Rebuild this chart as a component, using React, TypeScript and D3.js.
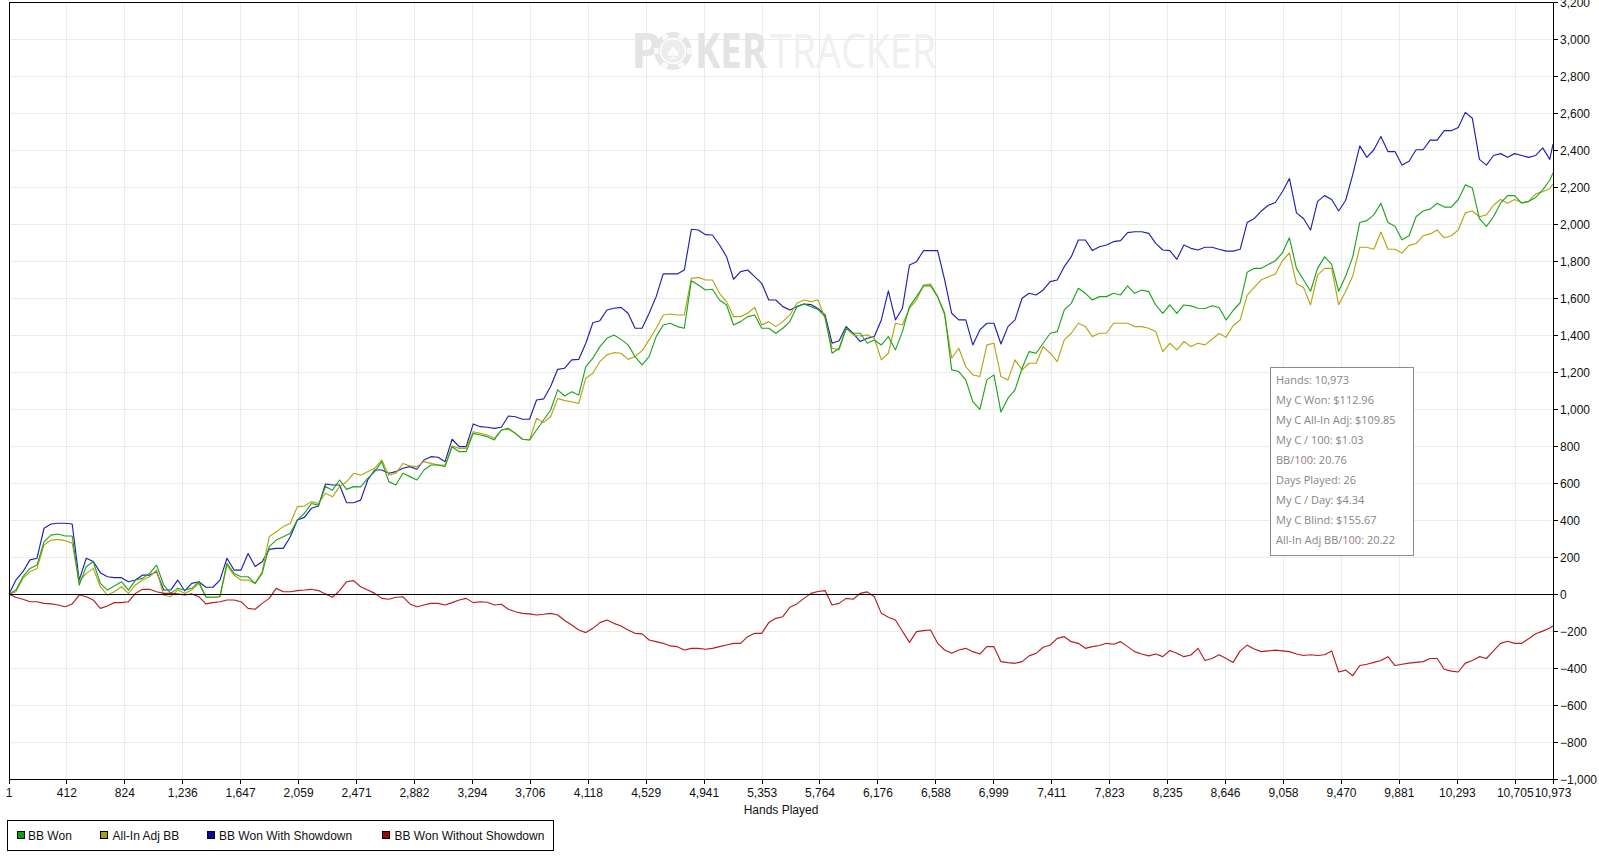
import * as d3 from "d3";
import React from "react";

// Hands sampled along the x axis (every 50 hands)
const hands = [
  1, 50, 100, 150, 200, 250, 300, 350, 400, 450,
  500, 550, 600, 650, 700, 750, 800, 850, 900, 950,
  1000, 1050, 1100, 1150, 1200, 1250, 1300, 1350, 1400, 1450,
  1500, 1550, 1600, 1650, 1700, 1750, 1800, 1850, 1900, 1950,
  2000, 2050, 2100, 2150, 2200, 2250, 2300, 2350, 2400, 2450,
  2500, 2550, 2600, 2650, 2700, 2750, 2800, 2850, 2900, 2950,
  3000, 3050, 3100, 3150, 3200, 3250, 3300, 3350, 3400, 3450,
  3500, 3550, 3600, 3650, 3700, 3750, 3800, 3850, 3900, 3950,
  4000, 4050, 4100, 4150, 4200, 4250, 4300, 4350, 4400, 4450,
  4500, 4550, 4600, 4650, 4700, 4750, 4800, 4850, 4900, 4950,
  5000, 5050, 5100, 5150, 5200, 5250, 5300, 5350, 5400, 5450,
  5500, 5550, 5600, 5650, 5700, 5750, 5800, 5850, 5900, 5950,
  6000, 6050, 6100, 6150, 6200, 6250, 6300, 6350, 6400, 6450,
  6500, 6550, 6600, 6650, 6700, 6750, 6800, 6850, 6900, 6950,
  7000, 7050, 7100, 7150, 7200, 7250, 7300, 7350, 7400, 7450,
  7500, 7550, 7600, 7650, 7700, 7750, 7800, 7850, 7900, 7950,
  8000, 8050, 8100, 8150, 8200, 8250, 8300, 8350, 8400, 8450,
  8500, 8550, 8600, 8650, 8700, 8750, 8800, 8850, 8900, 8950,
  9000, 9050, 9100, 9150, 9200, 9250, 9300, 9350, 9400, 9450,
  9500, 9550, 9600, 9650, 9700, 9750, 9800, 9850, 9900, 9950,
  10000, 10050, 10100, 10150, 10200, 10250, 10300, 10350, 10400, 10450,
  10500, 10550, 10600, 10650, 10700, 10750, 10800, 10850, 10900, 10950,
  10973,
];

// BB Won
const bbWon = [
  0, 23, 95, 140, 158, 285, 320, 326, 315, 315,
  50, 150, 176, 59, 23, 45, 68, 23, 77, 86,
  113, 158, 50, 5, 32, 23, 32, 68, -16, -16,
  -13, 168, 113, 95, 95, 59, 113, 258, 293, 311,
  330, 402, 437, 491, 482, 582, 563, 618, 567, 582,
  581, 627, 663, 717, 609, 591, 654, 636, 618, 672,
  699, 699, 690, 798, 771, 771, 870, 861, 852, 834,
  888, 897, 870, 838, 834, 888, 942, 996, 1105, 1072,
  1095, 1077, 1231, 1276, 1339, 1384, 1402, 1378, 1348, 1285,
  1240, 1285, 1393, 1456, 1465, 1447, 1438, 1695, 1672, 1645,
  1649, 1591, 1564, 1456, 1474, 1501, 1510, 1438, 1438, 1411,
  1438, 1474, 1555, 1569, 1555, 1540, 1501, 1303, 1330, 1438,
  1411, 1411, 1357, 1375, 1348, 1393, 1321, 1420, 1555, 1609,
  1667, 1667, 1609, 1519, 1213, 1204, 1159, 1041, 1000, 1159,
  1186, 985, 1060, 1105, 1222, 1312, 1303, 1357, 1411, 1420,
  1537, 1573, 1654, 1627, 1591, 1609, 1609, 1627, 1618, 1667,
  1627, 1645, 1636, 1564, 1519, 1564, 1519, 1564, 1559, 1546,
  1545, 1560, 1550, 1483, 1534, 1576, 1741, 1762, 1762, 1783,
  1803, 1845, 1927, 1762, 1700, 1638, 1762, 1824, 1783, 1638,
  1720, 1824, 2010, 2020, 2051, 2114, 2010, 1989, 1917, 1938,
  2041, 2072, 2082, 2114, 2093, 2093, 2134, 2213, 2196, 2031,
  1989, 2041, 2114, 2155, 2155, 2114, 2124, 2145, 2186, 2238,
  2278,
];

// All-In Adj BB
const allInAdj = [
  0, 14, 86, 122, 140, 267, 293, 297, 290, 276,
  68, 113, 140, 41, -4, 14, 41, 5, 50, 77,
  95, 131, -4, -13, 23, 5, 23, 59, -13, -16,
  -13, 158, 104, 77, 77, 59, 122, 311, 338, 366,
  383, 474, 477, 501, 491, 546, 527, 582, 608, 654,
  644, 663, 681, 726, 644, 654, 707, 694, 690, 717,
  708, 699, 699, 802, 789, 789, 879, 870, 861, 843,
  888, 892, 870, 838, 834, 951, 928, 960, 1059, 1047,
  1041, 1032, 1168, 1195, 1258, 1294, 1306, 1303, 1270, 1285,
  1317, 1375, 1438, 1510, 1515, 1510, 1510, 1708, 1713, 1699,
  1699, 1627, 1582, 1501, 1501, 1519, 1551, 1456, 1474, 1447,
  1474, 1510, 1573, 1591, 1582, 1591, 1492, 1330, 1321, 1438,
  1402, 1396, 1402, 1384, 1267, 1303, 1465, 1456, 1546, 1591,
  1672, 1677, 1609, 1510, 1276, 1330, 1231, 1186, 1177, 1348,
  1357, 1177, 1159, 1267, 1213, 1249, 1249, 1339, 1303, 1258,
  1375, 1411, 1465, 1447, 1393, 1411, 1411, 1465, 1465, 1465,
  1447, 1447, 1438, 1420, 1312, 1357, 1321, 1366, 1339, 1357,
  1348, 1379, 1410, 1390, 1452, 1483, 1617, 1659, 1700, 1716,
  1731, 1803, 1845, 1679, 1659, 1565, 1725, 1762, 1762, 1565,
  1638, 1721, 1876, 1876, 1865, 1958, 1865, 1865, 1845, 1886,
  1896, 1938, 1948, 1969, 1927, 1938, 1969, 2062, 2072, 2041,
  2051, 2103, 2134, 2114, 2134, 2118, 2124, 2165, 2176, 2192,
  2219,
];

// BB Won With Showdown
const withShowdown = [
  0, 77, 122, 186, 195, 357, 380, 384, 384, 380,
  77, 195, 177, 117, 95, 90, 90, 68, 77, 104,
  104, 122, 23, 23, 77, 18, 59, 68, 38, 38,
  77, 195, 131, 131, 221, 150, 176, 243, 248, 248,
  311, 402, 416, 465, 477, 596, 591, 591, 495, 495,
  509, 618, 672, 672, 654, 663, 681, 690, 676, 726,
  744, 741, 717, 838, 798, 798, 921, 906, 903, 897,
  903, 964, 960, 946, 946, 1050, 1056, 1123, 1216, 1222,
  1267, 1270, 1357, 1468, 1479, 1537, 1546, 1551, 1519, 1438,
  1438, 1519, 1609, 1732, 1732, 1732, 1753, 1973, 1969, 1944,
  1942, 1888, 1825, 1703, 1744, 1753, 1717, 1681, 1591, 1591,
  1555, 1537, 1555, 1569, 1566, 1545, 1510, 1357, 1371, 1447,
  1411, 1366, 1384, 1393, 1483, 1640, 1483, 1546, 1780, 1798,
  1858, 1858, 1858, 1699, 1519, 1483, 1483, 1348, 1429, 1465,
  1465, 1353, 1447, 1483, 1600, 1627, 1618, 1645, 1690, 1699,
  1771, 1825, 1915, 1915, 1858, 1879, 1888, 1906, 1912, 1955,
  1960, 1960, 1951, 1897, 1861, 1858, 1811, 1888, 1870, 1861,
  1876, 1876, 1865, 1855, 1855, 1865, 2010, 2031, 2072, 2103,
  2118, 2176, 2248, 2062, 2031, 1969, 2124, 2155, 2134, 2072,
  2130, 2269, 2424, 2362, 2403, 2475, 2393, 2393, 2320, 2341,
  2403, 2403, 2455, 2455, 2506, 2506, 2523, 2605, 2573, 2351,
  2320, 2372, 2382, 2362, 2382, 2372, 2362, 2372, 2413, 2351,
  2434,
];

// BB Won Without Showdown
const withoutShowdown = [
  0, -16, -27, -40, -40, -49, -52, -58, -67, -52,
  -4, -13, -31, -76, -63, -45, -45, -40, 5, 27,
  27, 14, 5, 5, 2, -4, 2, -13, -52, -45,
  -40, -31, -31, -40, -76, -81, -49, -22, 32, 14,
  14, 20, 23, 27, 20, 2, -16, 20, 68, 74,
  41, 23, 5, -22, -27, -16, -13, -52, -67, -58,
  -49, -49, -58, -45, -31, -22, -45, -40, -43, -58,
  -54, -81, -94, -103, -106, -112, -108, -103, -112, -142,
  -166, -193, -207, -184, -153, -139, -157, -171, -193, -211,
  -214, -247, -256, -265, -279, -283, -301, -292, -292, -297,
  -292, -283, -274, -265, -265, -229, -211, -211, -153, -130,
  -121, -70, -52, -22, 5, 15, 20, -58, -49, -22,
  -27, 5, 13, -13, -103, -124, -139, -200, -260, -202,
  -196, -193, -265, -301, -319, -301, -292, -310, -323, -283,
  -283, -364, -369, -373, -364, -333, -319, -286, -274, -238,
  -229, -256, -265, -292, -283, -277, -265, -270, -256, -283,
  -310, -323, -333, -323, -337, -304, -319, -337, -328, -292,
  -358, -347, -327, -347, -368, -306, -275, -296, -310, -306,
  -302, -306, -310, -323, -331, -327, -331, -327, -306, -420,
  -410, -440, -385, -378, -368, -358, -337, -385, -378, -372,
  -368, -364, -347, -347, -405, -415, -420, -372, -358, -337,
  -347, -306, -265, -254, -265, -265, -240, -213, -199, -182,
  -172,
];

const xTicks = [
  1, 412, 824, 1236, 1647, 2059, 2471, 2882, 3294, 3706, 4118, 4529, 4941, 5353,
  5764, 6176, 6588, 6999, 7411, 7823, 8235, 8646, 9058, 9470, 9881, 10293, 10705, 10973,
];
const yTicks = [
  -1000, -800, -600, -400, -200, 0, 200, 400, 600, 800, 1000, 1200, 1400, 1600,
  1800, 2000, 2200, 2400, 2600, 2800, 3000, 3200,
];

const seriesNames = ["BB Won", "All-In Adj BB", "BB Won With Showdown", "BB Won Without Showdown"];
const seriesValues = [bbWon, allInAdj, withShowdown, withoutShowdown];
const lineColors = ["#1ea51e", "#b3a612", "#2020b0", "#b41e1e"];
const swatchColors = ["#0c9c0c", "#a8a008", "#0a0aa0", "#a00808"];

const tooltipLines = [
  "Hands: 10,973",
  "My C Won: $112.96",
  "My C All-In Adj: $109.85",
  "My C / 100: $1.03",
  "BB/100: 20.76",
  "Days Played: 26",
  "My C / Day: $4.34",
  "My C Blind: $155.67",
  "All-In Adj BB/100: 20.22",
];

const W = 1599;
const H = 861;
const plot = { left: 9, right: 1553, top: 2.3, bottom: 779.3 };
const axisFont = "'Liberation Sans', Arial, sans-serif";
const fmt = d3.format(",");

export default function App() {
  const x = d3.scaleLinear().domain([1, 10973]).range([plot.left, plot.right]);
  const y = d3.scaleLinear().domain([-1000, 3200]).range([plot.bottom, plot.top]);

  const lineGen = (vals: number[]) =>
    d3
      .line<number>()
      .x((_, i) => x(hands[i]))
      .y((d) => y(d))(vals) || "";

  // draw order: showdown, all-in, won, without showdown
  const drawOrder = [2, 1, 0, 3];

  const legendItems = [
    { sq: 16.5, tx: 28 },
    { sq: 100, tx: 112.5 },
    { sq: 206.5, tx: 219 },
    { sq: 382, tx: 394.5 },
  ];

  return (
    <svg
      width={W}
      height={H}
      style={{ position: "absolute", left: 0, top: 0, background: "#fff", display: "block" }}
    >
      <rect x={0} y={0} width={W} height={H} fill="#fff" />

      {/* grid */}
      <g stroke="#ebebeb" strokeWidth={1} shapeRendering="crispEdges">
        {xTicks.map((t) => (
          <line key={"gx" + t} x1={x(t)} x2={x(t)} y1={plot.top} y2={plot.bottom} />
        ))}
        {yTicks.map((t) => (
          <line key={"gy" + t} x1={plot.left} x2={plot.right} y1={y(t)} y2={y(t)} />
        ))}
      </g>

      {/* watermark */}
      <g fontFamily="'Open Sans', 'Noto Sans', sans-serif">
        <text x={631} y={68} fontSize={48} fontWeight={700} fill="#e4e4e4">
          P
        </text>
        <circle cx={673} cy={51} r={19} fill="#e6e6e6" />
        <circle cx={673} cy={51} r={12.5} fill="#ededed" stroke="#fff" strokeWidth={1.5} />
        {[0, 1, 2, 3, 4, 5].map((k) => (
          <rect
            key={k}
            x={-3}
            y={-19}
            width={6}
            height={5}
            fill="#fafafa"
            transform={`translate(673,51) rotate(${k * 60 + 30})`}
          />
        ))}
        <text x={673} y={59} fontSize={22} textAnchor="middle" fill="#fdfdfd">
          ♠
        </text>
        <text x={695} y={68} fontSize={48} fontWeight={700} fill="#e4e4e4" textLength={72} lengthAdjust="spacingAndGlyphs">
          KER
        </text>
        <text x={770} y={68} fontSize={48} fontWeight={400} fill="#f0f0f0" textLength={166} lengthAdjust="spacingAndGlyphs">
          TRACKER
        </text>
      </g>

      {/* series */}
      <g fill="none" strokeWidth={1.15} strokeLinejoin="round">
        {drawOrder.map((i) => (
          <path key={seriesNames[i]} d={lineGen(seriesValues[i])} stroke={lineColors[i]} />
        ))}
      </g>

      {/* zero line */}
      <line x1={plot.left} x2={plot.right} y1={y(0)} y2={y(0)} stroke="#000" strokeWidth={1} shapeRendering="crispEdges" />

      {/* frame */}
      <rect
        x={plot.left}
        y={plot.top}
        width={plot.right - plot.left}
        height={plot.bottom - plot.top}
        fill="none"
        stroke="#000"
        strokeWidth={1}
        shapeRendering="crispEdges"
      />

      {/* y axis (right) */}
      <g fontFamily={axisFont} fontSize={12} fill="#111">
        {yTicks.map((t) => (
          <g key={"yt" + t}>
            <line x1={plot.right} x2={plot.right + 5} y1={y(t)} y2={y(t)} stroke="#000" shapeRendering="crispEdges" />
            <text x={plot.right + 7} y={y(t)} dy="0.35em">
              {fmt(t)}
            </text>
          </g>
        ))}
      </g>

      {/* x axis */}
      <g fontFamily={axisFont} fontSize={12} fill="#111">
        {xTicks.map((t) => (
          <g key={"xt" + t}>
            <line x1={x(t)} x2={x(t)} y1={plot.bottom} y2={plot.bottom + 5} stroke="#000" shapeRendering="crispEdges" />
            <text x={x(t)} y={797} textAnchor="middle">
              {fmt(t)}
            </text>
          </g>
        ))}
        <text x={(plot.left + plot.right) / 2} y={814} textAnchor="middle">
          Hands Played
        </text>
      </g>

      {/* tooltip box */}
      <g>
        <rect x={1270.5} y={367.5} width={143} height={188} fill="#fff" stroke="#8c8c8c" strokeWidth={1} />
        {tooltipLines.map((s, i) => (
          <text
            key={s}
            x={1276}
            y={383.5 + i * 20}
            fontFamily="'Open Sans', 'Noto Sans', sans-serif"
            fontSize={11}
            fill="#8a8484"
          >
            {s}
          </text>
        ))}
      </g>

      {/* legend */}
      <g fontFamily={axisFont} fontSize={12} fill="#111">
        <rect x={7.5} y={820.5} width={546} height={30} fill="#fff" stroke="#000" strokeWidth={1} shapeRendering="crispEdges" />
        {legendItems.map((it, i) => (
          <g key={seriesNames[i]}>
            <rect x={it.sq + 0.5} y={831.5} width={7} height={7} fill={swatchColors[i]} stroke="#000" strokeWidth={1} shapeRendering="crispEdges" />
            <text x={it.tx} y={839.5}>
              {seriesNames[i]}
            </text>
          </g>
        ))}
      </g>
    </svg>
  );
}
